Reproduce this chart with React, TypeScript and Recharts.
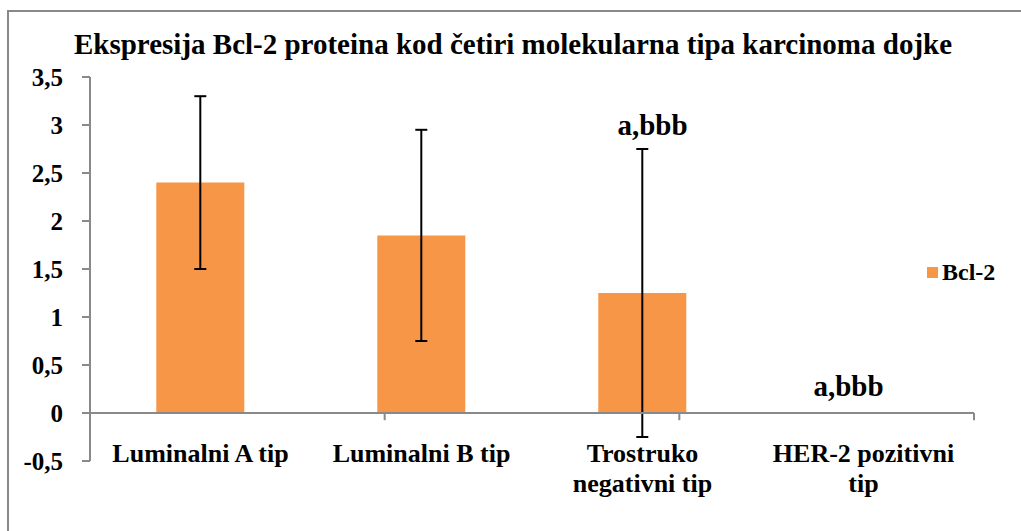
import { BarChart, Bar, XAxis, YAxis, ErrorBar, ReferenceLine, ReferenceDot } from "recharts";

const FONT = '"Liberation Serif", "Times New Roman", serif';
const ORANGE = "#F79646";
const GRID = "#898989";

// chart data
const categories = ["Luminalni A tip", "Luminalni B tip", "Trostruko negativni tip", "HER-2 pozitivni tip"];
const bcl2Values = [2.4, 1.85, 1.25, 0];
const bcl2Errors = [0.9, 1.1, 1.5, null];
const yTicks = [-0.5, 0, 0.5, 1, 1.5, 2, 2.5, 3, 3.5];
const seriesName = "Bcl-2";
const title = "Ekspresija Bcl-2 proteina kod četiri molekularna tipa karcinoma dojke";

// significance marks
const markCategories = ["Trostruko negativni tip", "HER-2 pozitivni tip"];
const markLevels = [3.0, 0.28];
const markTexts = ["a,bbb", "a,bbb"];

// category borders on the zero line
const categoryEdges = [0, 1, 2, 3, 4];

const data = categories.map((name, i) => ({ name, value: bcl2Values[i], err: bcl2Errors[i] }));

// greedy word wrap, measured with canvas
let ctx: CanvasRenderingContext2D | null = null;
function wrap(label: string, maxWidth: number, font: string) {
  if (!ctx) ctx = document.createElement("canvas").getContext("2d");
  if (!ctx) return [label];
  ctx.font = font;
  const words = label.split(" ");
  const lines: string[] = [];
  let cur = "";
  for (const w of words) {
    const test = cur ? cur + " " + w : w;
    if (cur && ctx.measureText(test).width > maxWidth) {
      lines.push(cur);
      cur = w;
    } else {
      cur = test;
    }
  }
  if (cur) lines.push(cur);
  return lines;
}

function CategoryTick(props: any) {
  const { x, y, payload } = props;
  const lines = wrap(String(payload.value), 200, `bold 26px ${FONT}`);
  return (
    <text x={x} y={y + 1} textAnchor="middle" fill="#000" style={{ fontFamily: FONT, fontSize: 26, fontWeight: 700 }}>
      {lines.map((l, i) => (
        <tspan key={i} x={x} dy={i === 0 ? 0 : 30}>
          {l}
        </tspan>
      ))}
    </text>
  );
}

export default function App() {
  const markDx = [10, -15];

  return (
    <div style={{ position: "absolute", left: 0, top: 0, width: 1021, height: 531, background: "#fff", overflow: "hidden" }}>
      <div
        style={{
          position: "absolute",
          left: 7,
          top: 10,
          width: 1100,
          height: 600,
          borderTop: `2px solid ${GRID}`,
          borderLeft: `2px solid ${GRID}`,
        }}
      />
      <div style={{ position: "absolute", left: 0, top: 0 }}>
        <BarChart width={1021} height={531} data={data} margin={{ top: 77, right: 47, bottom: 40, left: 10 }} barCategoryGap="30%">
          <XAxis
            xAxisId="cat"
            dataKey="name"
            axisLine={false}
            tickLine={false}
            tickSize={0}
            tickMargin={0}
            height={30}
            interval={0}
            tick={<CategoryTick />}
          />
          <XAxis xAxisId="edge" type="number" domain={[0, 4]} allowDataOverflow hide />
          <YAxis
            domain={[-0.5, 3.5]}
            ticks={yTicks}
            allowDataOverflow
            width={80}
            axisLine={{ stroke: GRID, strokeWidth: 2 }}
            tickLine={{ stroke: GRID, strokeWidth: 2 }}
            tickSize={8}
            tickMargin={19}
            tickFormatter={(v: number) => String(v).replace(".", ",")}
            tick={{ fill: "#000", fontSize: 25, fontWeight: 700, fontFamily: FONT }}
          />
          <Bar xAxisId="cat" dataKey="value" name={seriesName} fill={ORANGE} isAnimationActive={false}>
            <ErrorBar dataKey="err" direction="y" width={6} stroke="#000" strokeWidth={2} isAnimationActive={false} />
          </Bar>
          <ReferenceLine xAxisId="cat" y={0} stroke={GRID} strokeWidth={2} />
          {categoryEdges.map((e) => (
            <ReferenceLine
              key={e}
              xAxisId="edge"
              segment={[{ x: e, y: 0 }, { x: e, y: -0.075 }]}
              stroke={GRID}
              strokeWidth={2}
              ifOverflow="visible"
            />
          ))}
          {markCategories.map((c, i) => (
            <ReferenceDot
              key={i}
              xAxisId="cat"
              x={c}
              y={markLevels[i]}
              r={0}
              ifOverflow="visible"
              shape={(p: any) => (
                <text
                  x={p.cx + markDx[i]}
                  y={p.cy}
                  dy="0.35em"
                  textAnchor="middle"
                  fill="#000"
                  style={{ fontFamily: FONT, fontSize: 29, fontWeight: 700 }}
                >
                  {markTexts[i]}
                </text>
              )}
            />
          ))}
        </BarChart>
      </div>
      <svg width={1021} height={531} style={{ position: "absolute", left: 0, top: 0, pointerEvents: "none" }}>
        <text x={513} y={54} textAnchor="middle" fill="#000" style={{ fontFamily: FONT, fontSize: 29, fontWeight: 700 }}>
          {title}
        </text>
        <rect x={927} y={267} width={11} height={11} fill={ORANGE} />
        <text x={942} y={280} fill="#000" style={{ fontFamily: FONT, fontSize: 24, fontWeight: 700 }}>
          {seriesName}
        </text>
      </svg>
    </div>
  );
}
